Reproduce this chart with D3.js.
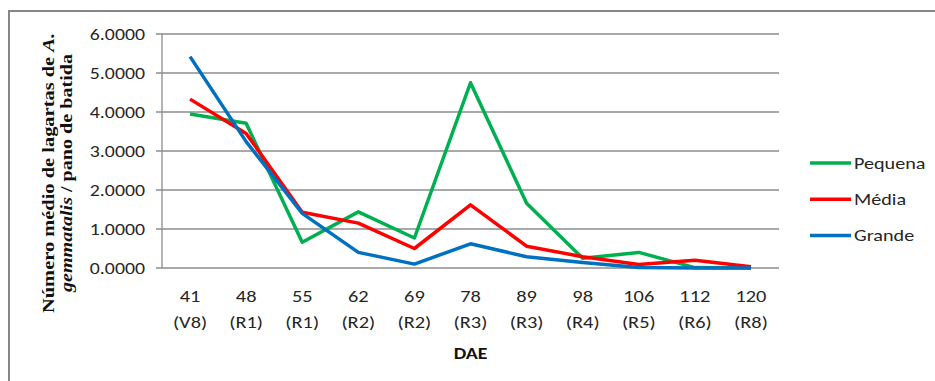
<!DOCTYPE html>
<html><head><meta charset="utf-8">
<script src="https://cdn.jsdelivr.net/npm/d3@7"></script>
<style>body{margin:0;background:#fff}svg{display:block}</style>
</head><body><svg id="c" width="935" height="381"></svg>
<script>
const categories = ["41","48","55","62","69","78","89","98","106","112","120"];
const stages = ["(V8)","(R1)","(R1)","(R2)","(R2)","(R3)","(R3)","(R4)","(R5)","(R6)","(R8)"];
const pequena = [3.95,3.71,0.66,1.44,0.77,4.75,1.66,0.25,0.40,0.01,0.0];
const media   = [4.33,3.45,1.43,1.15,0.50,1.62,0.56,0.29,0.09,0.20,0.03];
const grande  = [5.42,3.24,1.40,0.40,0.10,0.62,0.29,0.14,0.01,0.0,0.0];
const yTicks = [0,1,2,3,4,5,6];
const seriesNames = ["Pequena","Média","Grande"];
const seriesColors = ["#00B050","#FF0000","#0070C0"];
const seriesData = [pequena, media, grande];

const svg = d3.select("#c");
const font = "Calibri, Carlito, 'Open Sans', 'Liberation Sans', sans-serif";
const SX = 1.2;
// outer border
svg.append("rect").attr("x",9).attr("y",11).attr("width",940).attr("height",400)
  .attr("fill","none").attr("stroke","#868686").attr("stroke-width",2);

const L=162, R=779, T=34, B=268;
const x = d3.scaleBand().domain(categories).range([L,R]);
const y = d3.scaleLinear().domain([0,6]).range([B,T]);
const cx = d => x(d)+x.bandwidth()/2;

// gridlines
svg.append("g").selectAll("line").data(yTicks).join("line")
  .attr("x1",L-6).attr("x2",R).attr("y1",d=>y(d)).attr("y2",d=>y(d))
  .attr("stroke","#8c8c8c").attr("stroke-width",1.3);
svg.append("line").attr("x1",L).attr("x2",L).attr("y1",T).attr("y2",B)
  .attr("stroke","#8c8c8c").attr("stroke-width",1.3);

// y tick labels
svg.append("g").selectAll("text").data(yTicks).join("text")
  .attr("transform",d=>`translate(145,${y(d)}) scale(${SX},1)`)
  .attr("dy","0.35em").attr("text-anchor","end")
  .attr("font-family",font).attr("font-size",16.5).attr("fill","#262626")
  .text(d=>d3.format(".4f")(d));

// x labels
svg.append("g").selectAll("text").data(categories).join("text")
  .attr("transform",d=>`translate(${cx(d)},302) scale(${SX},1)`).attr("text-anchor","middle")
  .attr("font-family",font).attr("font-size",17).attr("fill","#262626").text(d=>d);
svg.append("g").selectAll("text").data(stages).join("text")
  .attr("transform",(d,i)=>`translate(${cx(categories[i])},328) scale(${SX},1)`).attr("text-anchor","middle")
  .attr("font-family",font).attr("font-size",17).attr("fill","#262626").text(d=>d);

svg.append("text").attr("transform",`translate(${(L+R)/2},359) scale(${SX},1)`).attr("text-anchor","middle")
  .attr("font-family",font).attr("font-size",16.5).attr("font-weight","bold").attr("fill","#111").text("DAE");

// y title
const yt = svg.append("g").attr("transform","translate(0,173) rotate(-90)");
const tf = "'Liberation Serif', 'Times New Roman', serif";
yt.append("text").attr("x",0).attr("y",54).attr("text-anchor","middle")
  .attr("font-family",tf).attr("font-weight","bold").attr("font-size",17).attr("fill","#111")
  .attr("textLength",280).attr("lengthAdjust","spacingAndGlyphs")
  .html('Número médio de lagartas de <tspan font-style="italic">A.</tspan>');
yt.append("text").attr("x",0).attr("y",72).attr("text-anchor","middle")
  .attr("font-family",tf).attr("font-weight","bold").attr("font-size",17).attr("fill","#111")
  .attr("textLength",238).attr("lengthAdjust","spacingAndGlyphs")
  .html('<tspan font-style="italic">gemmatalis</tspan> / pano de batida');

// lines
const line = d3.line().x((d,i)=>cx(categories[i])).y(d=>y(d));
seriesData.forEach((s,k)=>{
  svg.append("path").datum(s).attr("d",line).attr("fill","none")
    .attr("stroke",seriesColors[k]).attr("stroke-width",3.5).attr("stroke-linejoin","round");
});

// legend
const lg = svg.append("g").selectAll("g").data(seriesNames).join("g")
  .attr("transform",(d,i)=>`translate(810,${163+i*36.3})`);
lg.append("line").attr("x1",0).attr("x2",41).attr("stroke",(d,i)=>seriesColors[i]).attr("stroke-width",3.5);
lg.append("text").attr("transform",`translate(44,0) scale(${SX},1)`).attr("dy","0.35em")
  .attr("font-family",font).attr("font-size",16.8).attr("fill","#262626").text(d=>d);
</script></body></html>
